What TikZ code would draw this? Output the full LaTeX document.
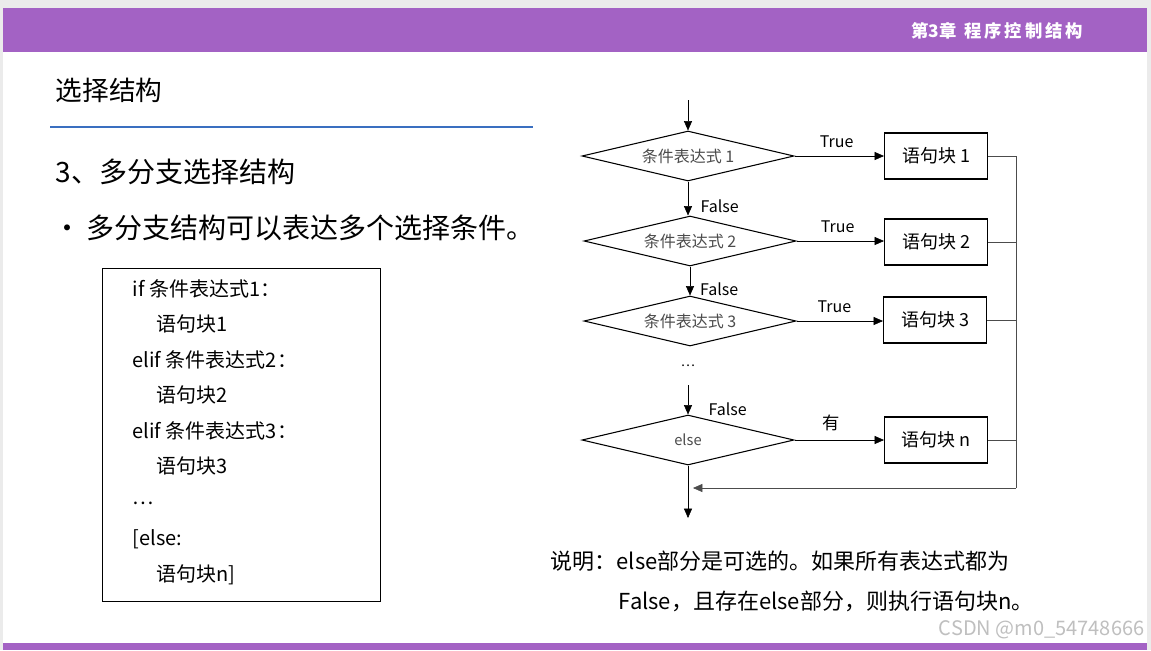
\documentclass[tikz,border=0pt]{standalone}
\usepackage{fontspec}
\setmainfont{Noto Sans CJK SC}
\usetikzlibrary{shapes.geometric,arrows.meta}
\definecolor{purp}{HTML}{A362C4}
\definecolor{lineb}{HTML}{3A6FC0}
\begin{document}
\begin{tikzpicture}[x=0.75pt,y=-0.75pt,
 dia/.style={draw,thick,diamond,aspect=4.4,minimum width=212*0.75pt,minimum height=50*0.75pt,inner sep=0pt,font=\fontsize{12}{12}\selectfont,text=black!70},
 blk/.style={draw,thick,minimum width=103*0.75pt,minimum height=46*0.75pt,font=\fontsize{13.5}{13.5}\selectfont},
 arr/.style={-{Triangle[length=7pt,width=6pt]}},
 lab/.style={font=\fontsize{12}{12}\selectfont},
 code/.style={anchor=west,font=\fontsize{15}{15}\selectfont}]
\useasboundingbox (0,0) rectangle (1151,650);
\fill[black!8] (0,0) rectangle (1151,650);
\fill[white] (3,8) rectangle (1147,650);
\fill[purp] (3,8) rectangle (1147,52);
\fill[purp] (3,643) rectangle (1147,650);
\node[text=white,font=\bfseries\fontsize{13}{13}\selectfont] (hd) at (997,31) {第3章\ \ 程\,序\,控\,制\,结\,构};
\node[anchor=west,font=\fontsize{20}{20}\selectfont] (t1) at (51,90) {选择结构};
\draw[lineb,line width=0.8pt] (50,127) -- (533,127);
\node[anchor=west,font=\fontsize{21}{21}\selectfont] (t2) at (51,172) {3、多分支选择结构};
\node[anchor=west,font=\fontsize{21}{21}\selectfont] (t3) at (49,228) {•\,多分支结构可以表达多个选择条件。};
\draw (102,268) rectangle (380,601);
\node[code] at (128,289) {if 条件表达式1：};
\node[code] at (152,324) {语句块1};
\node[code] at (128,360) {elif 条件表达式2：};
\node[code] at (152,395) {语句块2};
\node[code] at (128,431) {elif 条件表达式3：};
\node[code] at (152,466) {语句块3};
\node[code] at (128,503) {…};
\node[code] at (128,539) {[else:};
\node[code] at (152,575) {语句块n]};
\coordinate (top) at (688,100);
\node[dia] (d1) at (688,156) {条件表达式 1};
\node[dia] (d2) at (690,241) {条件表达式 2};
\node[dia] (d3) at (690,321) {条件表达式 3};
\node[dia,font=\fontsize{11}{11}\selectfont] (d4) at (688,440) {else};
\node[blk] (b1) at (936,156) {语句块 1};
\node[blk] (b2) at (936,242) {语句块 2};
\node[blk] (b3) at (935,320) {语句块 3};
\node[blk] (b4) at (936,440) {语句块 n};
\node[font=\fontsize{10}{10}\selectfont] (dots) at (688,366) {…};
\coordinate (f0) at (688,385);
\coordinate (ret) at (1016,488);
\coordinate (bot) at (688,518);
\draw[arr] (top) -- (d1.north);
\draw[arr] (d1.south) -- node[lab,right,xshift=6pt,yshift=-6pt]{False} (d1.south|-d2.north);
\draw[arr] (d2.south) -- node[lab,right,xshift=4pt,yshift=-6pt]{False} (d2.south|-d3.north);
\draw[arr] (f0) -- node[lab,right,xshift=12pt,yshift=-7pt]{False} (f0|-d4.north);
\draw[arr] (d1.east) -- node[lab,above,xshift=-2pt,yshift=3pt]{True} (b1.west);
\draw[arr] (d2.east) -- node[lab,above,xshift=-2pt,yshift=3pt]{True} (b2.west|-d2.east);
\draw[arr] (d3.east) -- node[lab,above,xshift=-4pt,yshift=3pt]{True} (b3.west|-d3.east);
\draw[arr] (d4.east) -- node[lab,above,xshift=-6pt,yshift=3pt,font=\fontsize{13}{13}\selectfont]{有} (b4.west|-d4.east);
\draw[black!70] (b1.east) -| (ret);
\draw[black!70] (b2.east) -- (b2.east-|ret);
\draw[black!70] (b3.east) -- (b3.east-|ret);
\draw[black!70] (b4.east) -- (b4.east-|ret);
\draw[black!70,arr] (ret) -- (693,488);
\draw[arr] (d4.south) -- (bot);
\node[anchor=west,font=\fontsize{16.5}{16.5}\selectfont] (n1) at (546,561) {说明：else部分是可选的。如果所有表达式都为};
\node[anchor=west,font=\fontsize{16.5}{16.5}\selectfont] (n2) at (614,601) {False，且存在else部分，则执行语句块n。};
\node[anchor=east,text=black!25,font=\fontsize{15}{15}\selectfont] (wm) at (1149,630) {CSDN @m0\_54748666};
\end{tikzpicture}
\end{document}
